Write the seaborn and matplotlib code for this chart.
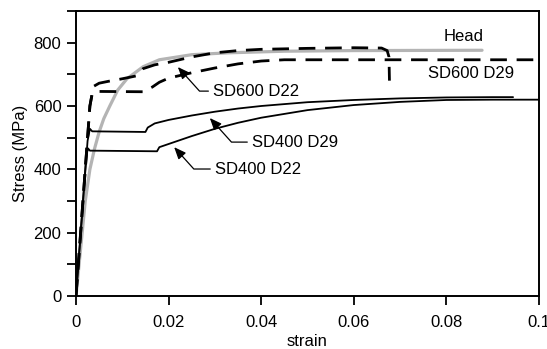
import numpy as np
import pandas as pd
import matplotlib
matplotlib.use("Agg")
import matplotlib.pyplot as plt
import seaborn as sns

# ---- data ----
head_strain = [0, 0.001, 0.002, 0.003, 0.004, 0.005, 0.006, 0.0073, 0.009, 0.011,
               0.0145, 0.018, 0.025, 0.033, 0.045, 0.06, 0.0877]
head_stress = [0, 150, 300, 400, 465, 518, 560, 600, 650, 686,
               724, 746, 762, 768, 773, 775, 776]

sd600d22_strain = [0, 0.003, 0.0038, 0.005, 0.007, 0.010, 0.013, 0.0145, 0.017, 0.020,
                   0.025, 0.030, 0.035, 0.040, 0.050, 0.060, 0.066, 0.0672, 0.0676, 0.0677]
sd600d22_stress = [0, 600, 662, 672, 678, 686, 695, 718, 730, 738,
                   755, 768, 775, 779, 782, 784, 783, 775, 755, 680]

sd600d29_strain = [0, 0.003, 0.0035, 0.0045, 0.0145, 0.0165, 0.018, 0.020, 0.025,
                   0.030, 0.035, 0.040, 0.045, 0.100]
sd600d29_stress = [0, 600, 640, 646, 645, 660, 675, 688, 705,
                   720, 733, 742, 746, 746]

sd400d29_strain = [0, 0.0025, 0.003, 0.0035, 0.015, 0.0155, 0.017, 0.020, 0.025, 0.030,
                   0.035, 0.040, 0.050, 0.060, 0.070, 0.080, 0.090, 0.0944]
sd400d29_stress = [0, 490, 528, 520, 518, 532, 545, 556, 570, 582,
                   592, 600, 612, 619, 624, 627, 628, 628]

sd400d22_strain = [0, 0.0022, 0.0026, 0.003, 0.0175, 0.018, 0.020, 0.025, 0.030, 0.035,
                   0.040, 0.050, 0.060, 0.070, 0.080, 0.090, 0.100]
sd400d22_stress = [0, 440, 466, 459, 457, 470, 480, 505, 528, 547,
                   563, 587, 603, 613, 619, 620, 620]

x_ticks = [0, 0.02, 0.04, 0.06, 0.08, 0.1]
x_ticklabels = ["0", "0.02", "0.04", "0.06", "0.08", "0.1"]
y_ticks = [0, 100, 200, 300, 400, 500, 600, 700, 800, 900]
y_ticklabels = ["0", "", "200", "", "400", "", "600", "", "800", ""]

# ---- style ----
sns.set_style("white")
plt.rcParams["font.family"] = ["Liberation Sans", "DejaVu Sans"]
plt.rcParams["text.color"] = "black"
plt.rcParams["axes.labelcolor"] = "black"
plt.rcParams["xtick.color"] = "black"
plt.rcParams["ytick.color"] = "black"

fig = plt.figure(figsize=(5.47, 3.49), dpi=100)
ax = fig.add_axes([76 / 547, 1 - 296 / 349, (539 - 76) / 547, (296 - 11) / 349])

def df_of(s, v):
    return pd.DataFrame({"strain": s, "stress": v})

sns.lineplot(data=df_of(head_strain, head_stress), x="strain", y="stress", ax=ax,
             sort=False, estimator=None, color="#b4b4b4", linewidth=2.3)
sns.lineplot(data=df_of(sd600d29_strain, sd600d29_stress), x="strain", y="stress", ax=ax,
             sort=False, estimator=None, color="black", linewidth=2.0,
             linestyle=(0, (6, 3.5)))
sns.lineplot(data=df_of(sd600d22_strain, sd600d22_stress), x="strain", y="stress", ax=ax,
             sort=False, estimator=None, color="black", linewidth=2.0,
             linestyle=(0, (6, 3.5)))
sns.lineplot(data=df_of(sd400d29_strain, sd400d29_stress), x="strain", y="stress", ax=ax,
             sort=False, estimator=None, color="black", linewidth=1.3)
sns.lineplot(data=df_of(sd400d22_strain, sd400d22_stress), x="strain", y="stress", ax=ax,
             sort=False, estimator=None, color="black", linewidth=1.3)

ax.set_xlim(0, 0.1)
ax.set_ylim(0, 900)
ax.set_xticks(x_ticks)
ax.set_xticklabels(x_ticklabels)
ax.set_yticks(y_ticks)
ax.set_yticklabels(y_ticklabels)
ax.set_xlabel("strain", fontsize=12, labelpad=3, color="black")
ax.set_ylabel("Stress (MPa)", fontsize=12, labelpad=4, color="black")
ax.tick_params(axis="both", which="major", labelsize=12, direction="out",
               length=6.5, width=1.3, color="black", labelcolor="black",
               bottom=True, left=True, top=False, right=False)
ax.tick_params(axis="x", pad=7)
ax.tick_params(axis="y", pad=4)
for sp in ax.spines.values():
    sp.set_visible(True)
    sp.set_color("black")
    sp.set_linewidth(1.4)

fs = 12
ax.text(0.0793, 821, "Head", fontsize=fs, ha="left", va="center", color="black")
ax.text(0.0761, 704, "SD600 D29", fontsize=fs, ha="left", va="center", color="black")

arrowprops = dict(arrowstyle="-|>,head_length=0.6,head_width=0.25", color="black",
                  lw=0.9, shrinkA=1, shrinkB=0,
                  connectionstyle="angle,angleA=0,angleB=132,rad=0")
ax.annotate("SD600 D22", xy=(0.0220, 723), xytext=(0.0296, 647), fontsize=fs,
            ha="left", va="center", color="black", arrowprops=arrowprops)
ax.annotate("SD400 D29", xy=(0.0289, 562), xytext=(0.0380, 486), fontsize=fs,
            ha="left", va="center", color="black", arrowprops=arrowprops)
ax.annotate("SD400 D22", xy=(0.0212, 470), xytext=(0.0300, 401), fontsize=fs,
            ha="left", va="center", color="black", arrowprops=arrowprops)

fig.savefig("out.png", dpi=100)
